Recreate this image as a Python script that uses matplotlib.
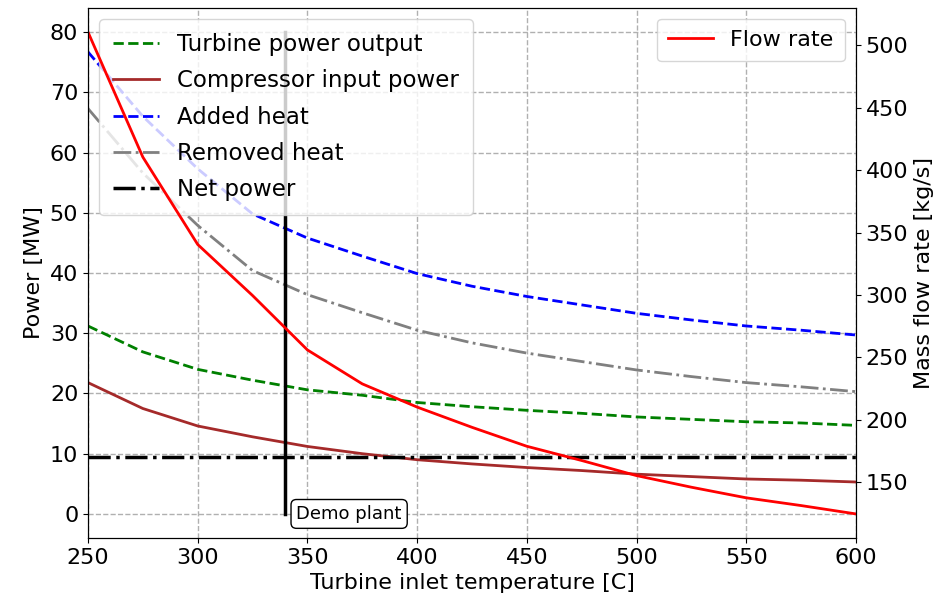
import matplotlib.pyplot as plt

# turbine inlet temperature [C]
temperature = [250, 275, 300, 325, 350, 375, 400, 425, 450, 475, 500, 525, 550, 575, 600]

# power curves [MW]
turbine_power = [31.2, 26.9, 24.0, 22.2, 20.6, 19.7, 18.5, 17.8, 17.2, 16.7, 16.1, 15.7, 15.3, 15.1, 14.7]
compressor_power = [21.8, 17.5, 14.6, 12.8, 11.2, 10.0, 9.0, 8.3, 7.7, 7.2, 6.6, 6.2, 5.8, 5.6, 5.3]
added_heat = [76.7, 66.0, 57.3, 49.8, 45.8, 42.8, 39.9, 37.8, 36.1, 34.7, 33.3, 32.2, 31.2, 30.5, 29.7]
removed_heat = [67.3, 56.6, 47.9, 40.4, 36.4, 33.4, 30.5, 28.4, 26.7, 25.3, 23.9, 22.8, 21.8, 21.1, 20.3]
net_power = [9.4, 9.4, 9.4, 9.4, 9.4, 9.4, 9.4, 9.4, 9.4, 9.4, 9.4, 9.4, 9.4, 9.4, 9.4]

# mass flow rate [kg/s]
flow_rate = [510.7, 410.5, 340.5, 299.6, 256.0, 228.8, 210.2, 194.0, 178.8, 167.4, 155.3, 146.0, 137.5, 131.3, 124.6]

demo_temperature = 340
demo_power = [0, 80]

plt.rcParams['font.size'] = 16

fig = plt.figure(figsize=(9.43, 6.10), dpi=100)
ax1 = fig.add_axes([0.0933, 0.118, 0.8144, 0.869])

ax1.plot(temperature, turbine_power, '--', color='g', lw=2, label='Turbine power output')
ax1.plot(temperature, compressor_power, '-', color='brown', lw=2, label='Compressor input power')
ax1.plot(temperature, added_heat, '--', color='b', lw=2, label='Added heat')
ax1.plot(temperature, removed_heat, '-.', color='grey', lw=2, label='Removed heat')
ax1.plot(temperature, net_power, '-.', color='k', lw=2.5, label='Net power')
ax1.plot([demo_temperature, demo_temperature], demo_power, 'k-', lw=2.5)
ax1.text(demo_temperature + 5, demo_power[0], 'Demo plant', fontsize=13, va='center',
         bbox=dict(boxstyle='round', fc='w', ec='k'))

ax1.set_xlim(250, 600)
ax1.set_xlabel('Turbine inlet temperature [C]')
ax1.set_ylabel('Power [MW]')
ax1.grid(True, linestyle='--', color='#b0b0b0', lw=1)
ax1.legend(loc='upper left', fontsize=16.5, labelspacing=0.58, borderpad=0.6)

ax2 = ax1.twinx()
ax2.plot(temperature, flow_rate, '-', color='r', lw=2, label='Flow rate')
ax2.set_ylabel('Mass flow rate [kg/s]')
ax2.legend(loc='upper right', borderpad=0.5)

fig.savefig('out.png')
